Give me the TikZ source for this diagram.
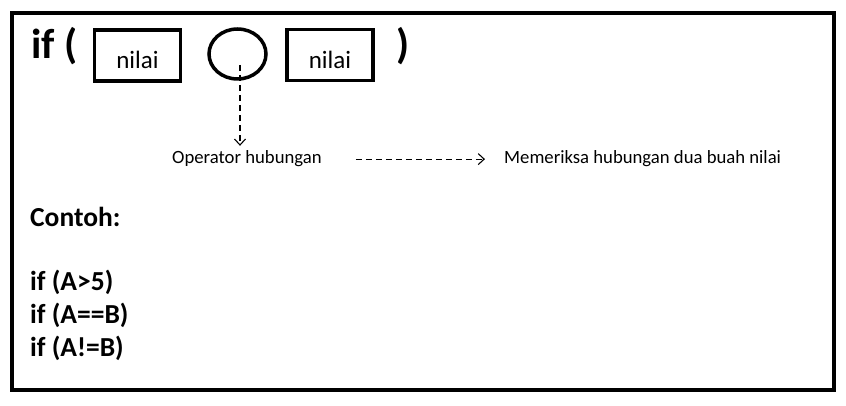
\documentclass[tikz,border=0pt]{standalone}
\usepackage{fontspec}
\setmainfont{Carlito}
\usetikzlibrary{shapes.geometric,arrows.meta}

\tikzset{
    valbox/.style={draw, line width=3.5pt, minimum width=86pt, minimum height=51pt,
        text height=27pt, text depth=0pt, font=\fontsize{25}{29}\selectfont},
    oprbox/.style={draw, ellipse, line width=3.5pt, minimum width=57pt, minimum height=50pt},
    dasharrow/.style={dash pattern=on 6pt off 4pt, line width=1.1pt,
        -{Straight Barb[length=6pt,width=11pt]}},
    note/.style={anchor=base west, inner sep=0pt, font=\fontsize{18.7}{22}\selectfont},
    code/.style={anchor=base west, inner sep=0pt, font=\bfseries\fontsize{27.5}{32}\selectfont}
}

\begin{document}
\begin{tikzpicture}[x=1pt, y=-1pt]
    \useasboundingbox (0,0) rectangle (846,406);
    \draw[line width=4.5pt] (12,13) rectangle (834,390);

    \draw(31,59) node[anchor=base west, inner sep=0pt, font=\bfseries\fontsize{42}{46}\selectfont] (ifopen) {if (};
    \draw(137.5,55.5) node[valbox] (lval) {nilai};
    \draw(237.5,54) node[oprbox] (oprt) {};
    \draw(330,55) node[valbox] (rval) {nilai};
    \draw(396,59) node[anchor=base west, inner sep=0pt, font=\bfseries\fontsize{42}{46}\selectfont] (ifclose) {)};

    \draw(172,164) node[note] (ophub) {Operator hubungan};
    \draw(504,164) node[note] (desc) {Memeriksa hubungan dua buah nilai};

    \draw[dasharrow, shorten <=11pt, shorten >=5pt] ([xshift=2.5pt]oprt.center) -- ([xshift=2.5pt]oprt.center |- ophub.north);
    \draw[dasharrow, shorten <=34pt, shorten >=19pt] (ophub.east) -- (desc.west);

    % contoh
    \draw(30,227) node[code] (contoh) {Contoh:};
    \draw(30,290) node[code] (ex1) {if (A>5)};
    \draw(30,323) node[code] (ex2) {if (A==B)};
    \draw(30,356) node[code] (ex3) {if (A!=B)};

\end{tikzpicture}
\end{document}
